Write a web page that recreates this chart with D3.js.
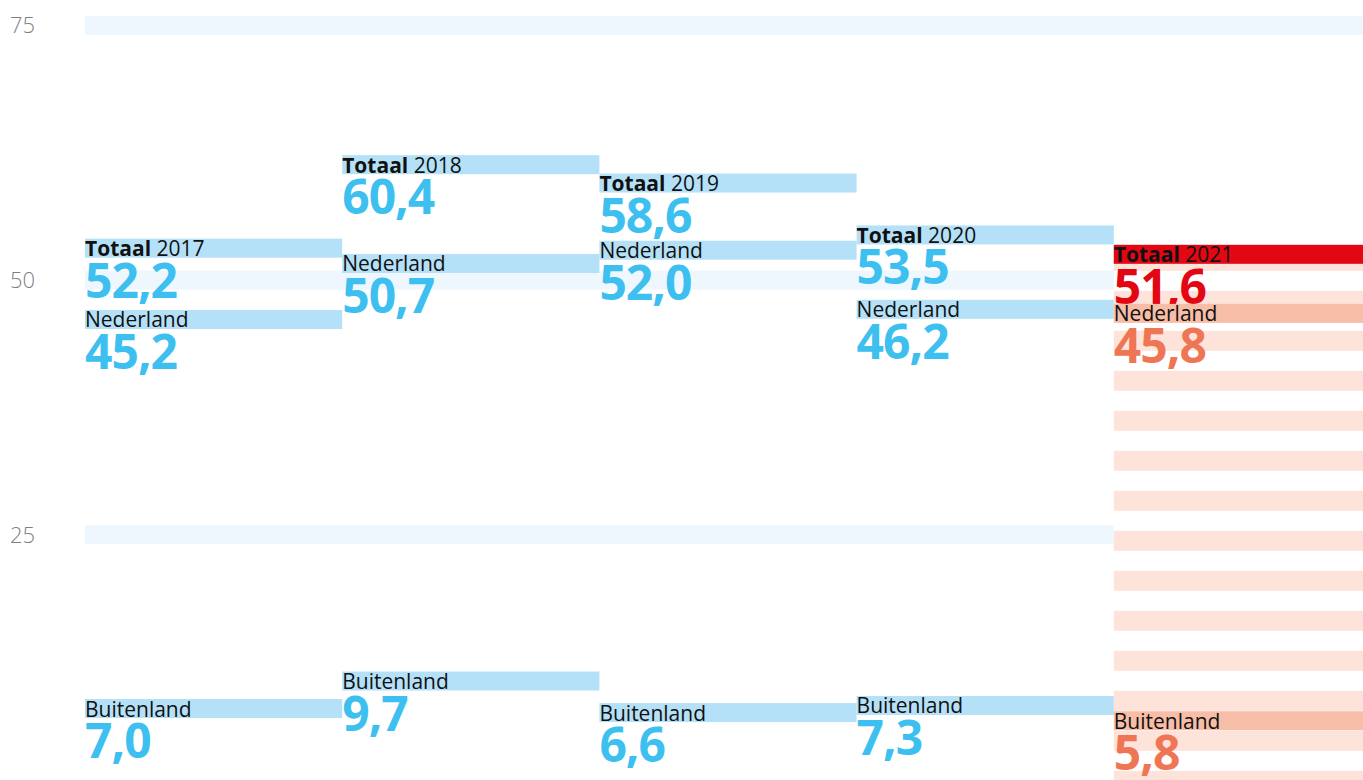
<!DOCTYPE html>
<html>
<head>
<meta charset="utf-8">
<script src="https://cdn.jsdelivr.net/npm/d3@7"></script>
<style>
  html, body { margin: 0; padding: 0; background: #fff; }
  svg { display: block; font-family: "Open Sans", "Noto Sans", sans-serif; }
</style>
</head>
<body>
<svg id="chart" width="1363" height="780"></svg>
<script>
// Data
const years = ["2017", "2018", "2019", "2020", "2021"];
const totaal = [52.2, 60.4, 58.6, 53.5, 51.6];
const nederland = [45.2, 50.7, 52.0, 46.2, 45.8];
const buitenland = [7.0, 9.7, 6.6, 7.3, 5.8];
const yTicks = [25, 50, 75];
const highlightYear = "2021";

// Size settings
const width = 1363;
const height = 780;
const bandH = 19;

// Colours
const blueBand = "#b5e1f8";
const blueText = "#3dbff0";
const gridBand = "#eef7fd";
const redBand = "#e30613";
const salmonBand = "#f7bda6";
const salmonText = "#ef7655";
const stripe = "#fde3d9";

const svg = d3.select("#chart");

// Scales
const x = d3.scaleBand().domain(years).range([85, 1371]).padding(0);
const y = d3.scaleLinear().domain([0, 75]).range([789.3, 25.5]);

const locale = d3.formatLocale({decimal: ",", thousands: ".", grouping: [3], currency: ["€", ""]});
const fmt = locale.format(".1f");

////////// Grid bands //////////
const grid = svg.append("g");
grid.selectAll("rect")
    .data(yTicks)
    .enter().append("rect")
    .attr("x", x.range()[0])
    .attr("width", width - x.range()[0])
    .attr("y", d => y(d) - bandH / 2)
    .attr("height", bandH)
    .attr("fill", gridBand);

grid.selectAll("text")
    .data(yTicks)
    .enter().append("text")
    .attr("x", 10)
    .attr("y", d => y(d))
    .attr("dy", "0.36em")
    .style("font-size", "22px")
    .style("font-weight", 300)
    .attr("fill", "#7f7f7f")
    .text(d => d);

////////// Highlighted year column (striped) //////////
const hi = years.indexOf(highlightYear);
const colTop = y(totaal[hi]) - bandH;
const col = svg.append("g");
col.append("rect")
    .attr("x", x(highlightYear))
    .attr("width", x.bandwidth())
    .attr("y", colTop)
    .attr("height", y(0) - colTop)
    .attr("fill", "#fff");

const stripeStarts = d3.range(y(0) + 1.5, colTop, -40);
col.selectAll(".stripe")
    .data(stripeStarts)
    .enter().append("rect")
    .attr("class", "stripe")
    .attr("x", x(highlightYear))
    .attr("width", x.bandwidth())
    .attr("y", d => Math.max(colTop, d - 20))
    .attr("height", d => d - Math.max(colTop, d - 20))
    .attr("fill", stripe);

////////// Series //////////
const series = [
    {key: "Totaal", values: totaal, withYear: true},
    {key: "Nederland", values: nederland, withYear: false},
    {key: "Buitenland", values: buitenland, withYear: false}
];

series.forEach(s => {
    const data = years.map((yr, i) => ({year: yr, value: s.values[i]}));
    const g = svg.append("g");

    g.selectAll("rect")
        .data(data)
        .enter().append("rect")
        .attr("x", d => x(d.year))
        .attr("width", d => x.bandwidth())
        .attr("y", d => y(d.value) - bandH)
        .attr("height", bandH)
        .attr("fill", d => d.year === highlightYear ? (s.withYear ? redBand : salmonBand) : blueBand);

    const lbl = g.selectAll(".lbl")
        .data(data)
        .enter().append("text")
        .attr("class", "lbl")
        .attr("x", d => x(d.year))
        .attr("y", d => y(d.value) - 1.5)
        .style("font-size", "21px")
        .attr("fill", "#111");

    if (s.withYear) {
        lbl.append("tspan").style("font-weight", 700).text(s.key);
        lbl.append("tspan").text(d => " " + d.year);
    } else {
        lbl.text(s.key);
    }

    g.selectAll(".num")
        .data(data)
        .enter().append("text")
        .attr("class", "num")
        .attr("x", d => x(d.year))
        .attr("y", d => y(d.value) + 40)
        .style("font-size", "48px")
        .style("font-weight", 700)
        .style("letter-spacing", "-1px")
        .attr("fill", d => d.year === highlightYear ? (s.withYear ? redBand : salmonText) : blueText)
        .text(d => fmt(d.value));
});
</script>
</body>
</html>
